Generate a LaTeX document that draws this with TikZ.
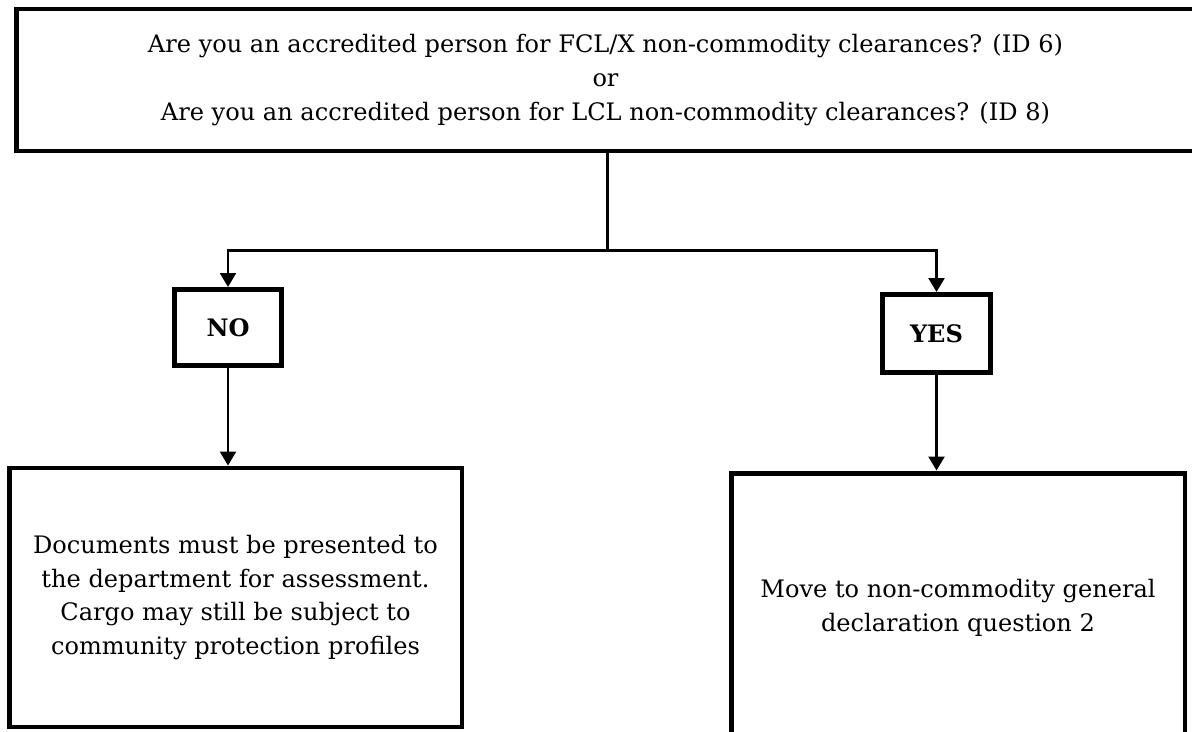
\documentclass[tikz,border=0pt]{standalone}
\usepackage{fontspec}
\setmainfont{DejaVu Serif}
\usetikzlibrary{arrows.meta}

\begin{document}
\begin{tikzpicture}[x=0.02cm, y=-0.02cm,
    box/.style={draw, line width=2.8pt, align=center, inner sep=0pt,
        font=\fontsize{13.7}{19.3}\selectfont},
    answer/.style={box, font=\fontsize{13.7}{19.3}\selectfont\bfseries},
    link/.style={line width=1.7pt},
    arrow/.style={link, -{Triangle[length=8pt, width=9pt]}}]

    % Page frame
    \useasboundingbox (0,0) rectangle (1192,731);
    \clip (0,0) rectangle (1192,731);

    % The question
    \node[box, minimum width=23.58cm, minimum height=2.84cm] (question) at (605.5,80)
        {Are you an accredited person for FCL/X non-commodity clearances? (ID 6)\\
         or\\
         Are you an accredited person for LCL non-commodity clearances? (ID 8)};

    % The two answers
    \node[answer, minimum width=2.14cm, minimum height=1.52cm] (no) at (228,327.5) {NO};
    \node[answer, minimum width=2.16cm, minimum height=1.56cm] (yes) at (936.5,333.5) {YES};

    % What follows
    \node[box, minimum width=9.06cm, minimum height=5.18cm] (assess) at (235.5,597.5)
        {Documents must be presented to\\
         the department for assessment.\\
         Cargo may still be subject to\\
         community protection profiles};
    \node[box, minimum width=9.08cm, minimum height=5.4cm] (moveon) at (958,608)
        {Move to non-commodity general\\
         declaration question 2};

    % Connectors
    \coordinate (split) at (607,250);
    \draw[link] (question.south -| split) -- (split);
    \draw[arrow] (split) -| (no.north);
    \draw[arrow] (split) -| (yes.north);
    \draw[arrow] (no.south) -- (no.south |- assess.north);
    \draw[arrow] (yes.south) -- (yes.south |- moveon.north);

\end{tikzpicture}
\end{document}
